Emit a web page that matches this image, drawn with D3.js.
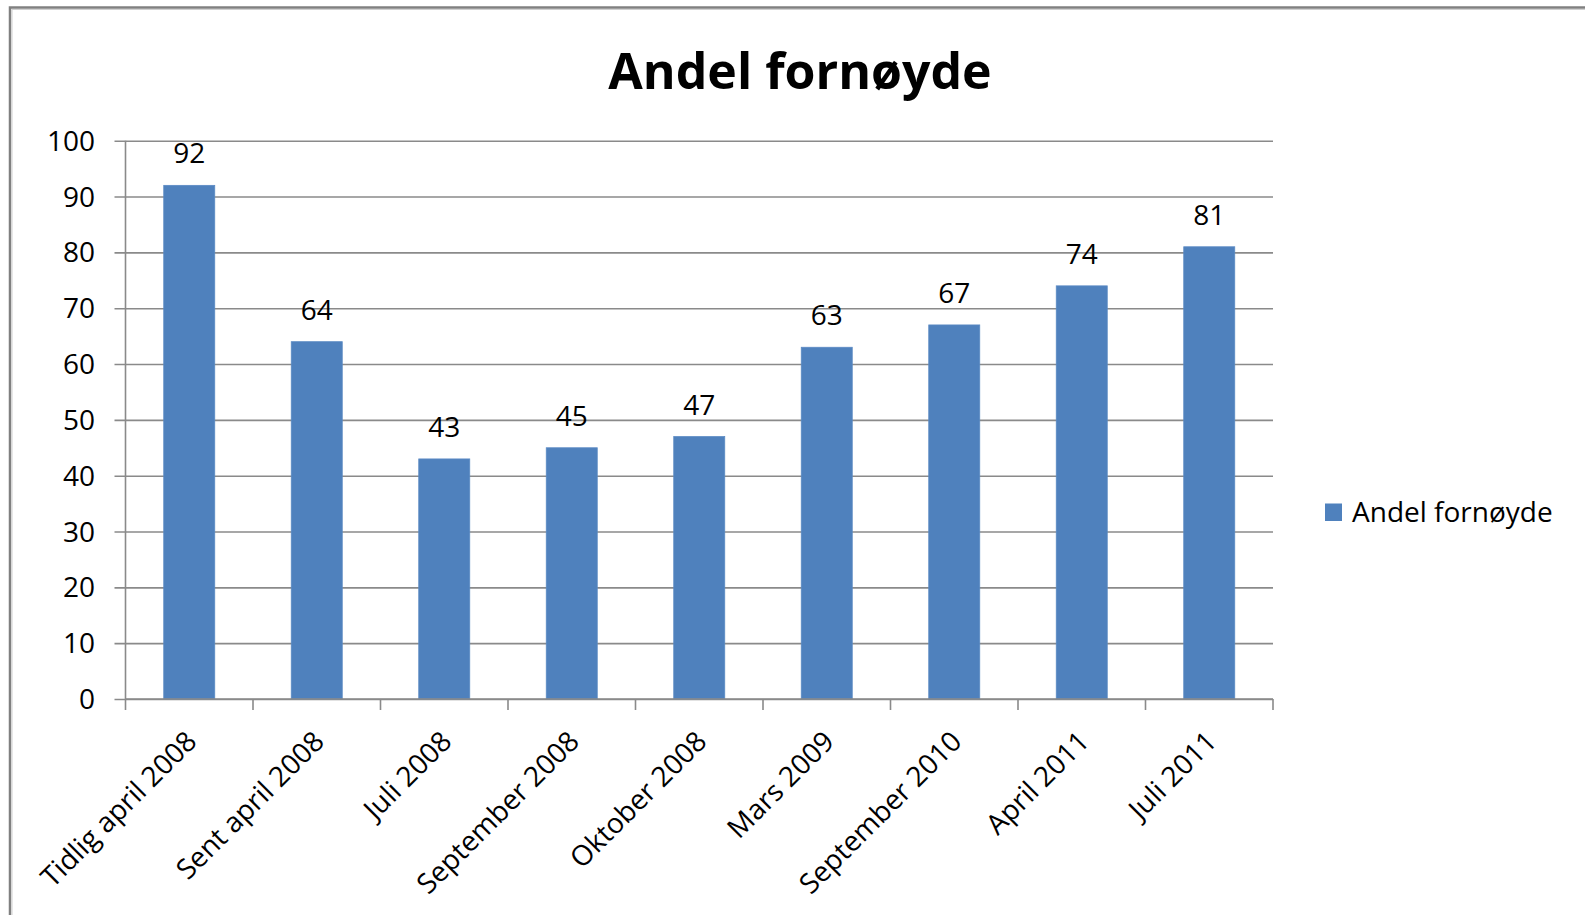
<!DOCTYPE html>
<html>
<head>
<meta charset="utf-8">
<script src="https://cdn.jsdelivr.net/npm/d3@7"></script>
<style>
  html, body { margin: 0; padding: 0; background: #fff; }
  svg { display: block; }
  text { font-family: "Open Sans", sans-serif; fill: #000; }
</style>
</head>
<body>
<svg id="chart" width="1585" height="915"></svg>
<script>
const categories = ["Tidlig april 2008", "Sent april 2008", "Juli 2008", "September 2008", "Oktober 2008", "Mars 2009", "September 2010", "April 2011", "Juli 2011"];
const values = [92, 64, 43, 45, 47, 63, 67, 74, 81];
const yTicks = [0, 10, 20, 30, 40, 50, 60, 70, 80, 90, 100];
const title = "Andel fornøyde";
const seriesName = "Andel fornøyde";

const W = 1585, H = 915;
const plot = { left: 125.5, right: 1273, top: 140.7, bottom: 699 };
const barColor = "#4F81BD";
const gridColor = "#8a8a8a";

const svg = d3.select("#chart");

// outer border
svg.append("path")
  .attr("d", `M10,${H + 5} L10,7.5 L${W + 5},7.5`)
  .attr("fill", "none").attr("stroke", "#808080").attr("stroke-width", 2.5);
svg.append("path")
  .attr("d", `M12,${H + 5} L12,9.5 L${W + 5},9.5`)
  .attr("fill", "none").attr("stroke", "#d0d0d0").attr("stroke-width", 1);

const x = d3.scaleBand().domain(categories).range([plot.left, plot.right]).paddingInner(0.6).paddingOuter(0.3);
const xb = d3.scaleBand().domain(categories).range([plot.left, plot.right]);
const y = d3.scaleLinear().domain([0, 100]).range([plot.bottom, plot.top]);

// gridlines
const yAxis = d3.axisLeft(y).tickValues(yTicks).tickFormat("");
const yg = svg.append("g").attr("transform", `translate(${plot.left - 11},0)`).call(yAxis);
yg.select(".domain").remove();
yg.selectAll(".tick line").attr("stroke", gridColor).attr("stroke-width", 1.6)
  .attr("x1", 0).attr("x2", plot.right - plot.left + 11);

// y axis line
svg.append("line")
  .attr("x1", plot.left).attr("x2", plot.left)
  .attr("y1", plot.top).attr("y2", plot.bottom)
  .attr("stroke", gridColor).attr("stroke-width", 1.6);

// y tick labels
svg.append("g").selectAll("text").data(yTicks).join("text")
  .attr("x", 95).attr("y", d => y(d)).attr("dy", "0.36em")
  .attr("text-anchor", "end").attr("font-size", 28)
  .text(d => d);

// bars
svg.append("g").selectAll("rect").data(values).join("rect")
  .attr("x", (d, i) => x(categories[i]))
  .attr("width", x.bandwidth())
  .attr("y", d => y(d))
  .attr("height", d => y(0) - y(d))
  .attr("fill", barColor)
  .attr("stroke", "#5b8ac4").attr("stroke-width", 0.8);

// x axis
svg.append("line")
  .attr("x1", plot.left).attr("x2", plot.right)
  .attr("y1", plot.bottom).attr("y2", plot.bottom)
  .attr("stroke", gridColor).attr("stroke-width", 1.6);
const boundaries = categories.map(c => xb(c)).concat([plot.right]);
svg.append("g").selectAll("line").data(boundaries).join("line")
  .attr("x1", d => d).attr("x2", d => d)
  .attr("y1", plot.bottom).attr("y2", plot.bottom + 11)
  .attr("stroke", gridColor).attr("stroke-width", 1.6);

// value labels
svg.append("g").selectAll("text").data(values).join("text")
  .attr("x", (d, i) => x(categories[i]) + x.bandwidth() / 2)
  .attr("y", d => y(d) - 22)
  .attr("text-anchor", "middle").attr("font-size", 28)
  .text(d => d);

// category labels
svg.append("g").selectAll("text").data(categories).join("text")
  .attr("transform", d => `translate(${xb(d) + xb.bandwidth() / 2 + 2},${plot.bottom + 37}) rotate(-45)`)
  .attr("text-anchor", "end").attr("dy", "0.36em").attr("font-size", 28)
  .text(d => d);

// title
svg.append("text")
  .attr("x", 800).attr("y", 89)
  .attr("text-anchor", "middle").attr("font-size", 50).attr("font-weight", "bold")
  .text(title);

// legend
const lg = svg.append("g");
lg.append("rect").attr("x", 1325).attr("y", 503.5).attr("width", 17).attr("height", 17.5).attr("fill", barColor);
lg.append("text").attr("x", 1352).attr("y", 522).attr("font-size", 28).text(seriesName);
</script>
</body>
</html>
